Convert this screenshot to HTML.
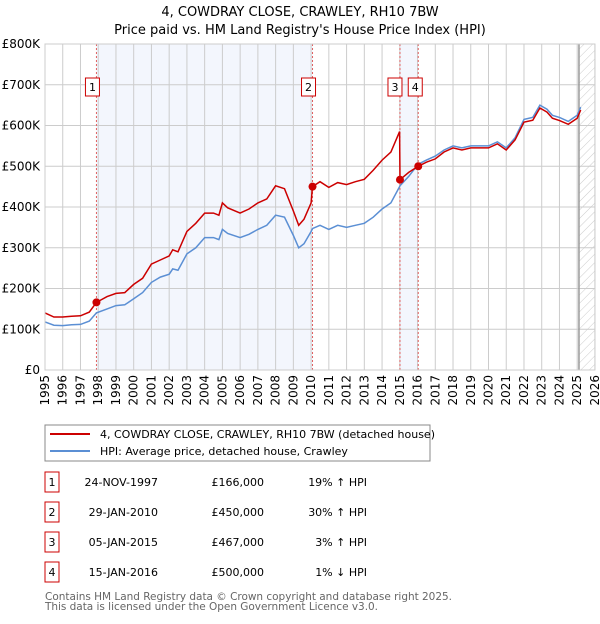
<!DOCTYPE html>
<html><head><meta charset="utf-8"><style>
body{margin:0;width:600px;height:620px;background:#fff;font-family:"DejaVu Sans","Liberation Sans",sans-serif;overflow:hidden}
svg text{font-family:"DejaVu Sans","Liberation Sans",sans-serif}
</style></head><body>
<svg id="c" width="600" height="620">
<defs><pattern id="h" width="6" height="6" patternUnits="userSpaceOnUse" patternTransform="rotate(45)"><line x1="0" y1="0" x2="0" y2="6" stroke="#ccc" stroke-width="1"/></pattern></defs>
<text x="300" y="16" text-anchor="middle" font-size="13">4, COWDRAY CLOSE, CRAWLEY, RH10 7BW</text>
<text x="300" y="34" text-anchor="middle" font-size="13">Price paid vs. HM Land Registry's House Price Index (HPI)</text>
<g id="plot"></g>
<rect x="45" y="425" width="385" height="36" fill="#fff" stroke="#888"/>
<line x1="50" y1="434" x2="90" y2="434" stroke="#cc0000" stroke-width="2"/>
<text x="100" y="438" font-size="11">4, COWDRAY CLOSE, CRAWLEY, RH10 7BW (detached house)</text>
<line x1="50" y1="451" x2="90" y2="451" stroke="#5b8fd4" stroke-width="2"/>
<text x="100" y="455" font-size="11">HPI: Average price, detached house, Crawley</text>
<g id="tbl" font-size="11"></g>
<text x="45" y="600" font-size="10.5" fill="#666" textLength="407">Contains HM Land Registry data © Crown copyright and database right 2025.</text>
<text x="45" y="610" font-size="10.5" fill="#666" textLength="333">This data is licensed under the Open Government Licence v3.0.</text>
</svg>
<script>
const dates=[1995,1995.5,1996,1996.5,1997,1997.5,1997.9,1998.5,1999,1999.5,2000,2000.5,2001,2001.5,2002,2002.2,2002.5,2003,2003.5,2004,2004.5,2004.8,2005,2005.3,2006,2006.5,2007,2007.5,2008,2008.5,2009,2009.3,2009.6,2010,2010.08,2010.5,2011,2011.5,2012,2012.5,2013,2013.5,2014,2014.5,2014.99,2015.01,2015.5,2016.04,2016.5,2017,2017.5,2018,2018.5,2019,2019.5,2020,2020.5,2021,2021.5,2022,2022.5,2022.9,2023.3,2023.6,2024,2024.5,2025,2025.2];
const hpi=[118,110,109,111,112,120,140,150,158,160,175,190,215,228,235,248,245,285,300,325,325,320,345,335,325,333,345,355,380,375,330,300,310,340,347,355,345,355,350,355,360,375,395,410,450,452,475,505,515,525,540,550,545,550,550,550,560,545,570,615,620,650,640,625,620,610,625,645];
const price=[140,130,130,132,133,142,166,180,188,190,210,225,260,270,280,295,290,340,360,385,385,380,410,398,385,395,410,420,452,445,390,355,370,410,450,462,448,460,455,462,468,490,515,535,585,467,485,500,510,518,535,545,540,545,545,545,555,540,565,608,613,643,633,618,612,603,618,638];
const saleDates=[1997.9,2010.08,2015.01,2016.04];
const saleValues=[166,450,467,500];
const saleLabels=["24-NOV-1997","29-JAN-2010","05-JAN-2015","15-JAN-2016"];
const salePrices=["£166,000","£450,000","£467,000","£500,000"];
const saleHpi=["19% ↑ HPI","30% ↑ HPI","3% ↑ HPI","1% ↓ HPI"];
const yTicks=[0,100,200,300,400,500,600,700,800];
const yTickLabels=["£0","£100K","£200K","£300K","£400K","£500K","£600K","£700K","£800K"];
const NS="http://www.w3.org/2000/svg";
const X=yr=>45+(yr-1995)*17.74, Y=v=>370-v*0.4075;
const g=document.getElementById('plot');
function mk(t,a,p){const e=document.createElementNS(NS,t);for(const k in a)e.setAttribute(k,a[k]);(p||g).appendChild(e);return e;}
let e;
e=mk('rect',{x:X(saleDates[0]),y:44,width:X(saleDates[1])-X(saleDates[0]),height:326,fill:'#f3f6fd'});

e=mk('rect',{x:X(saleDates[2]),y:44,width:X(saleDates[3])-X(saleDates[2]),height:326,fill:'#f3f6fd'});

e=mk('rect',{x:X(2025.1),y:44,width:X(2026)-X(2025.1),height:326,fill:'url(#h)'});

for(let yr=1995;yr<=2026;yr++){
 e=mk('line',{x1:X(yr),y1:44,x2:X(yr),y2:370,stroke:'#ccc'});
 
 e=mk('text',{x:0,y:0,'font-size':12,'text-anchor':'end',transform:`translate(${X(yr)+4},375) rotate(-90)`});e.textContent=yr;
 
}
yTicks.forEach((v,i)=>{
 e=mk('line',{x1:45,y1:Y(v),x2:X(2026),y2:Y(v),stroke:'#ccc'});
 
 e=mk('text',{x:40,y:Y(v)+4,'font-size':12,'text-anchor':'end'});e.textContent=yTickLabels[i];
 
});
e=mk('line',{x1:X(2025.1),y1:44,x2:X(2025.1),y2:370,stroke:'#999','stroke-width':1.5});

saleDates.forEach((d,i)=>{
 e=mk('line',{x1:X(d),y1:44,x2:X(d),y2:370,stroke:'#e06060','stroke-dasharray':'2,2'});
 
});
const path=(arr)=>dates.map((d,i)=>(i?'L':'M')+X(d).toFixed(1)+','+Y(arr[i]).toFixed(1)).join('');
e=mk('path',{d:path(hpi),fill:'none',stroke:'#5b8fd4','stroke-width':1.5});

e=mk('path',{d:path(price),fill:'none',stroke:'#cc0000','stroke-width':1.5});

const boxOff=[-4,-4,-5,-3];
saleDates.forEach((d,i)=>{
 e=mk('circle',{cx:X(d),cy:Y(saleValues[i]),r:4,fill:'#cc0000'});
 
 const cx=X(d)+boxOff[i];
 e=mk('rect',{x:cx-7,y:78,width:14,height:18,fill:'#fff',stroke:'#cc0000'});
 
 e=mk('text',{x:cx,y:91,'font-size':11,'text-anchor':'middle'});e.textContent=i+1;
 
});
e=mk('rect',{x:45,y:44,width:X(2026)-45,height:326,fill:'none',stroke:'#ccc'});

const t=document.getElementById('tbl');
saleLabels.forEach((s,i)=>{
 const y=483+i*30;
 e=mk('rect',{x:45,y:y-11,width:14,height:20,fill:'#fff',stroke:'#cc0000'},t);
 
 e=mk('text',{x:52,y:y+3,'text-anchor':'middle'},t);e.textContent=i+1;
 
 e=mk('text',{x:158,y:y+3,'text-anchor':'end'},t);e.textContent=s;
 
 e=mk('text',{x:264,y:y+3,'text-anchor':'end'},t);e.textContent=salePrices[i];
 
 e=mk('text',{x:367,y:y+3,'text-anchor':'end'},t);e.textContent=saleHpi[i];
 
});
</script>
</body></html>
